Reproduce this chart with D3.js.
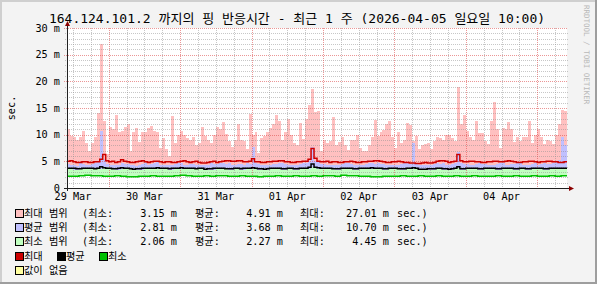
<!DOCTYPE html>
<html>
<head>
<meta charset="utf-8">
<script src="https://cdn.jsdelivr.net/npm/d3@7"></script>
<style>
body { margin: 0; background: #fff; }
svg text { font-family: "DejaVu Sans Mono", "Noto Sans CJK KR", monospace; fill: #000; }
</style>
</head>
<body>
<svg id="chart" width="597" height="284"></svg>
<script>
// one week, 2026-03-29 10:00 .. 2026-04-05 10:00
var startTime = Date.UTC(2026, 2, 29, 10);
var endTime = Date.UTC(2026, 3, 5, 10);
var hourMs = 3600000;

// ms, one value per hour
var maxRangeTop = [
  11, 9.8, 9.5, 9.0, 9.5, 10.6, 8.5, 7.0, 8.5, 9.5,
  14, 27.0, 12.5, 6.4, 11.5, 11, 13.7, 10.5, 10.6, 11.5,
  12, 7, 10.5, 11.2, 8.7, 10.5, 10.5, 11.2, 11.6, 10.6,
  10.5, 7.5, 9.3, 7.3, 6, 13.5, 8.5, 9.9, 10.7, 10,
  9.3, 9.0, 9.5, 8, 8.5, 11.5, 9.8, 9, 8.5, 10,
  11.5, 11, 12.4, 10.2, 8.8, 7.7, 9, 12, 9, 8.8,
  7.4, 13.8, 10, 10.5, 6.6, 9.3, 9.7, 10.5, 11.3, 12,
  13.6, 12.5, 9, 10.5, 13, 10, 8.4, 8, 12.2, 9.1,
  13, 15.5, 18.5, 14.3, 14.5, 7, 9, 8.5, 8.8, 13.4,
  8, 8.6, 9.5, 8, 7.2, 9, 9, 10, 7.5, 7,
  7, 8, 9.5, 12.8, 9.8, 10.5, 10.8, 12, 12.5, 9.5,
  7.5, 10.5, 8.5, 9, 12.2, 11.8, 8.8, 9.7, 7.3, 8,
  8.2, 8.5, 7.3, 8.8, 9.5, 9.3, 9, 10, 10, 9.3,
  8.8, 19.0, 12, 13.6, 10.6, 9.5, 9, 12.5, 10.4, 10.3,
  8.8, 8.3, 12.5, 16.2, 11, 7.5, 11.2, 11, 12.4, 11,
  8.7, 9.6, 8.8, 9.5, 9.6, 12.5, 8.5, 10, 11, 9.5,
  8.2, 9, 8.8, 8.3, 10, 12, 14.7, 14.5
];
var avgRangeTop = [
  4.5, 4.4, 4.3, 4.2, 4.6, 4.5, 4.4, 4.3, 4.5, 4.6, 4.8, 10.7, 5.5, 4.5, 4.4, 4.3, 4.3, 4.4, 4.6, 4.5,
  4.5, 4.4, 4.3, 4.2, 4.4, 4.5, 4.6, 4.4, 4.5, 4.6, 4.8, 4.4, 4.4, 4.3, 4.3, 4.4, 4.5, 4.6, 4.6, 4.4,
  4.4, 4.5, 4.5, 4.3, 4.3, 4.4, 4.4, 4.3, 4.6, 4.5, 4.5, 4.6, 4.7, 4.5, 4.6, 4.4, 4.4, 4.5, 4.5, 4.4,
  4.6, 4.5, 7.7, 4.6, 4.5, 4.4, 4.3, 4.4, 4.4, 4.5, 4.5, 4.6, 4.6, 4.5, 4.4, 4.3, 4.3, 4.4, 4.5, 4.6,
  4.7, 5.0, 7.7, 5.0, 4.8, 4.5, 4.5, 4.4, 4.4, 4.3, 4.3, 4.4, 4.5, 4.6, 4.6, 4.5, 4.4, 4.3, 4.3, 4.4,
  4.5, 4.6, 4.6, 4.5, 4.7, 4.5, 4.5, 4.4, 4.4, 4.3, 4.3, 4.4, 4.5, 4.6, 4.6, 4.5, 8.4, 4.6, 4.4, 4.3,
  4.3, 4.4, 4.4, 4.5, 4.6, 4.5, 4.7, 4.4, 4.4, 4.5, 4.6, 6.8, 4.6, 4.5, 4.5, 4.4, 4.4, 4.5, 4.6, 4.5,
  4.5, 4.4, 4.3, 4.4, 4.5, 4.6, 4.6, 4.4, 4.4, 4.5, 4.5, 4.6, 4.6, 4.4, 4.3, 4.4, 4.5, 4.6, 4.4, 4.5,
  4.6, 4.5, 4.5, 4.6, 4.8, 5.2, 9.5, 8.0
];
var maxLine = [
  5.0, 5.1, 4.9, 4.8, 4.8, 4.9, 4.9, 4.8, 4.8, 4.9, 4.9, 5.4, 6.3, 5.1, 4.9, 5.0, 4.8, 4.9, 5.3, 5.0,
  4.9, 4.8, 4.8, 4.9, 5.0, 5.1, 4.9, 4.8, 4.9, 5.0, 5.0, 4.9, 4.8, 4.9, 4.9, 4.8, 4.8, 4.9, 5.0, 5.1,
  4.9, 4.8, 4.9, 5.0, 4.8, 4.7, 4.7, 4.8, 4.9, 5.0, 4.8, 4.9, 5.0, 5.1, 5.1, 5.0, 5.0, 5.1, 5.1, 4.9,
  4.9, 5.0, 5.5, 4.9, 4.9, 4.8, 4.8, 4.9, 4.9, 5.0, 5.0, 5.1, 5.1, 4.9, 4.9, 4.8, 4.8, 4.9, 4.9, 5.0,
  5.0, 5.4, 7.4, 5.6, 5.0, 4.9, 4.9, 5.0, 4.8, 4.9, 4.9, 4.8, 4.8, 4.9, 4.9, 5.0, 4.9, 4.8, 4.8, 4.9,
  4.9, 5.0, 5.0, 5.1, 5.1, 5.0, 4.9, 4.8, 4.8, 4.9, 4.9, 5.0, 4.9, 4.8, 4.8, 4.7, 4.7, 4.6, 4.6, 4.7,
  4.8, 4.7, 4.7, 4.8, 5.0, 5.1, 5.1, 5.0, 4.8, 4.9, 5.0, 6.3, 5.1, 4.9, 4.9, 5.0, 5.0, 4.9, 4.9, 4.8,
  4.8, 4.9, 4.9, 5.0, 5.0, 4.9, 4.9, 5.0, 5.1, 5.0, 4.9, 4.8, 4.8, 4.9, 4.9, 5.0, 5.0, 4.9, 4.8, 4.9,
  4.9, 5.0, 5.0, 4.9, 4.9, 4.8, 4.8, 4.9
];
var avgLine = [
  3.7, 3.7, 3.7, 3.6, 3.6, 3.7, 3.7, 3.7, 3.7, 3.6, 3.7, 4.0, 3.8, 3.7, 3.7, 3.6, 3.6, 3.7, 3.8, 3.7,
  3.7, 3.6, 3.5, 3.6, 3.6, 3.7, 3.7, 3.7, 3.7, 3.7, 3.8, 3.7, 3.7, 3.7, 3.6, 3.7, 3.7, 3.7, 3.8, 3.7,
  3.7, 3.7, 3.7, 3.6, 3.7, 3.7, 3.5, 3.6, 3.6, 3.7, 3.7, 3.7, 3.7, 3.6, 3.6, 3.6, 3.7, 3.7, 3.6, 3.7,
  3.7, 3.7, 3.8, 3.7, 3.6, 3.6, 3.5, 3.6, 3.7, 3.7, 3.7, 3.7, 3.6, 3.6, 3.7, 3.7, 3.6, 3.6, 3.7, 3.7,
  3.7, 3.9, 4.5, 3.9, 3.8, 3.7, 3.7, 3.7, 3.7, 3.6, 3.6, 3.6, 3.7, 3.7, 3.7, 3.7, 3.6, 3.6, 3.7, 3.7,
  3.7, 3.7, 3.8, 3.7, 3.7, 3.7, 3.6, 3.6, 3.7, 3.7, 3.7, 3.6, 3.6, 3.6, 3.7, 3.7, 3.8, 3.7, 3.5, 3.5,
  3.5, 3.6, 3.6, 3.6, 3.7, 3.7, 3.6, 3.6, 3.5, 3.6, 3.7, 4.0, 3.6, 3.6, 3.7, 3.7, 3.7, 3.7, 3.6, 3.6,
  3.7, 3.7, 3.7, 3.7, 3.6, 3.6, 3.7, 3.7, 3.7, 3.7, 3.6, 3.6, 3.7, 3.7, 3.6, 3.6, 3.7, 3.7, 3.7, 3.7,
  3.6, 3.6, 3.7, 3.7, 3.7, 3.7, 3.7, 3.7
];

// ms, one value per 2 hours
var minRangeTop = [
  3.5, 3.4, 3.5, 3.6, 3.5, 3.6, 3.9, 3.5, 3.4, 3.6, 3.5, 3.3, 3.4, 3.5, 3.5, 3.6, 3.5, 3.4, 3.5, 3.6, 3.5, 3.5,
  3.5, 3.3, 3.4, 3.5, 3.5, 3.4, 3.5, 3.4, 3.5, 3.6, 3.4, 3.3, 3.5, 3.5, 3.4, 3.5, 3.4, 3.5, 3.6, 4.0, 3.6,
  3.5, 3.5, 3.4, 3.5, 3.5, 3.4, 3.5, 3.5, 3.6, 3.5, 3.4, 3.5, 3.5, 3.4, 3.5, 3.6, 3.3, 3.3, 3.4, 3.5, 3.4,
  3.3, 3.7, 3.4, 3.5, 3.5, 3.4, 3.5, 3.5, 3.4, 3.5, 3.5, 3.4, 3.5, 3.4, 3.5, 3.5, 3.4, 3.5, 3.5, 3.5
];
var minLine = [
  2.2, 2.2, 2.3, 2.4, 2.3, 2.3, 2.2, 2.2, 2.3, 2.2, 2.1, 2.1, 2.2, 2.2, 2.3, 2.2, 2.2, 2.2, 2.3, 2.4, 2.3, 2.2,
  2.2, 2.3, 2.2, 2.3, 2.3, 2.2, 2.2, 2.3, 2.2, 2.2, 2.1, 2.2, 2.2, 2.3, 2.2, 2.2, 2.3, 2.2, 2.2, 2.3, 2.2,
  2.3, 2.3, 2.2, 2.4, 2.3, 2.3, 2.2, 2.2, 2.1, 2.1, 2.2, 2.2, 2.2, 2.3, 2.2, 2.2, 2.3, 2.2, 2.2, 2.3, 2.2,
  2.2, 2.3, 2.2, 2.2, 2.3, 2.2, 2.2, 2.2, 2.3, 2.2, 2.2, 2.3, 2.2, 2.2, 2.3, 2.2, 2.2, 2.3, 2.2, 2.3
];

var yTicks = [0, 5, 10, 15, 20, 25, 30];
var yTickLabels = ["0", "5 m", "10 m", "15 m", "20 m", "25 m", "30 m"];

var legendNames = ["최대 범위", "평균 범위", "최소 범위"];
var statMin = ["3.15", "2.81", "2.06"];
var statAvg = ["4.91", "3.68", "2.27"];
var statMax = ["27.01", "10.70", "4.45"];
var lineNames = ["최대", "평균", "최소"];

var titleText = "164.124.101.2 까지의 핑 반응시간 - 최근 1 주 (2026-04-05 일요일 10:00)";

var W = 597, H = 284;
var plotLeft = 67, plotRight = 567, plotTop = 28, plotBottom = 188;

var svg = d3.select("#chart");

// background + 3d border
svg.append("rect").attr("width", W).attr("height", H).attr("fill", "#f3f3f3");
svg.append("path").attr("d", "M0,0H597V2H2V284H0Z").attr("fill", "#cfcfcf");
svg.append("path").attr("d", "M597,0V284H0V282H595V0Z").attr("fill", "#9e9e9e");

svg.append("rect")
  .attr("x", plotLeft).attr("y", plotTop)
  .attr("width", plotRight - plotLeft).attr("height", plotBottom - plotTop)
  .attr("fill", "#fff");

var x = d3.scaleUtc().domain([startTime, endTime]).range([plotLeft, plotRight]);
var y = d3.scaleLinear().domain([0, 30]).range([plotBottom, plotTop]);

function toSeries(values, stepHours) {
  var pts = values.map(function (v, i) {
    return { t: startTime + i * stepHours * hourMs, v: v };
  });
  pts.push({ t: endTime, v: values[values.length - 1] });
  return pts;
}

function lowAt(t) {
  var k = Math.min(minLine.length - 1, Math.floor((t - startTime) / (2 * hourMs)));
  return minLine[k];
}

var area = d3.area()
  .curve(d3.curveStepAfter)
  .x(function (d) { return x(d.t); })
  .y0(function (d) { return y(lowAt(d.t)); })
  .y1(function (d) { return y(d.v); });

var bands = svg.append("g").attr("shape-rendering", "crispEdges");
bands.append("path").datum(toSeries(maxRangeTop, 1)).attr("d", area).attr("fill", "#ffc0c0");
bands.append("path").datum(toSeries(avgRangeTop, 1)).attr("d", area).attr("fill", "#c0c0ff");
bands.append("path").datum(toSeries(minRangeTop, 2)).attr("d", area).attr("fill", "#c0ffc0");

// grid (dotted, drawn over the bands)
var grid = svg.append("g").attr("stroke-dasharray", "1,1");
d3.range(1, 31).forEach(function (v) {
  var yy = Math.round(y(v)) + 0.5;
  var major = v % 5 === 0;
  grid.append("line")
    .attr("x1", major ? plotLeft - 3 : plotLeft - 2).attr("x2", plotRight + 1)
    .attr("y1", yy).attr("y2", yy)
    .attr("stroke", major ? "rgba(222,80,80,0.6)" : "rgba(143,143,143,0.5)");
});
d3.utcHour.every(6).range(startTime, endTime).forEach(function (t) {
  var xx = Math.round(x(t)) + 0.5;
  var major = t.getUTCHours() === 0;
  if (xx < plotLeft + 2) return;
  grid.append("line")
    .attr("x1", xx).attr("x2", xx)
    .attr("y1", plotTop).attr("y2", plotBottom)
    .attr("stroke", major ? "rgba(222,80,80,0.6)" : "rgba(143,143,143,0.5)");
});

var line = d3.line()
  .curve(d3.curveStepAfter)
  .x(function (d) { return x(d.t); })
  .y(function (d) { return y(d.v); });

var lines = svg.append("g").attr("fill", "none").attr("stroke-width", 1.5);
lines.append("path").datum(toSeries(maxLine, 1)).attr("d", line).attr("stroke", "#cc0000");
lines.append("path").datum(toSeries(avgLine, 1)).attr("d", line).attr("stroke", "#000");
lines.append("path").datum(toSeries(minLine, 2)).attr("d", line).attr("stroke", "#00c000");

// axes and arrows
svg.append("line").attr("x1", plotLeft - 3).attr("x2", plotRight + 3)
  .attr("y1", plotBottom + 0.5).attr("y2", plotBottom + 0.5).attr("stroke", "#202020");
svg.append("line").attr("x1", plotLeft + 0.5).attr("x2", plotLeft + 0.5)
  .attr("y1", plotBottom + 3).attr("y2", plotTop - 3).attr("stroke", "#202020");
svg.append("path")
  .attr("d", "M" + (plotLeft - 2) + "," + (plotTop - 2) + "L" + (plotLeft + 0.5) + "," + (plotTop - 7) + "L" + (plotLeft + 3) + "," + (plotTop - 2) + "Z")
  .attr("fill", "#8b0000");
svg.append("path")
  .attr("d", "M" + (plotRight + 2) + "," + (plotBottom - 2) + "L" + (plotRight + 7) + "," + (plotBottom + 0.5) + "L" + (plotRight + 2) + "," + (plotBottom + 3) + "Z")
  .attr("fill", "#8b0000");

// y labels
svg.append("g").selectAll("text").data(yTicks).enter().append("text")
  .attr("x", 60).attr("y", function (d) { return y(d) + 3.5; })
  .attr("text-anchor", "end").attr("font-size", "10.2px")
  .text(function (d, i) { return yTickLabels[i]; });

svg.append("text")
  .attr("transform", "translate(15,108) rotate(-90)")
  .attr("text-anchor", "middle").attr("font-size", "10.2px")
  .text("sec.");

// x labels at noon
var dayLabels = d3.utcDay.range(Date.UTC(2026, 2, 29), Date.UTC(2026, 3, 5)).map(function (d) {
  return new Date(d.getTime() + 12 * hourMs);
});
svg.append("g").selectAll("text").data(dayLabels).enter().append("text")
  .attr("x", function (d) { return x(d); }).attr("y", 199.5)
  .attr("text-anchor", "middle").attr("font-size", "10.2px")
  .text(d3.utcFormat("%d %b"));

// title
svg.append("text").attr("x", 297).attr("y", 23)
  .attr("text-anchor", "middle").attr("font-size", "13px")
  .text(titleText);

// watermark
svg.append("text")
  .attr("transform", "translate(584,5) rotate(90)")
  .attr("font-size", "7.5px").style("fill", "#b8b8b8")
  .text("RRDTOOL / TOBI OETIKER");

// legend
var rowY = [217, 231, 245, 260, 274];
var bandColors = ["#ffc0c0", "#c0c0ff", "#c0ffc0"];
var lineColors = ["#cc0000", "#000000", "#00c000"];
var leg = svg.append("g").attr("font-size", "10.2px");

function box(g, bx, by, color) {
  g.append("rect").attr("x", bx + 0.5).attr("y", by - 7.5).attr("width", 8).attr("height", 8)
    .attr("fill", color).attr("stroke", "#000");
}

legendNames.forEach(function (name, i) {
  var by = rowY[i];
  box(leg, 15, by, bandColors[i]);
  leg.append("text").attr("x", 24).attr("y", by).text(name);
  leg.append("text").attr("x", 82).attr("y", by).text("(최소:");
  leg.append("text").attr("x", 177).attr("y", by).attr("text-anchor", "end").text(statMin[i] + " m");
  leg.append("text").attr("x", 195).attr("y", by).text("평균:");
  leg.append("text").attr("x", 283).attr("y", by).attr("text-anchor", "end").text(statAvg[i] + " m");
  leg.append("text").attr("x", 300).attr("y", by).text("최대:");
  leg.append("text").attr("x", 389).attr("y", by).attr("text-anchor", "end").text(statMax[i] + " m");
  leg.append("text").attr("x", 397).attr("y", by).text("sec.)");
});

var lineX = [15, 57, 99];
lineNames.forEach(function (name, i) {
  box(leg, lineX[i], rowY[3], lineColors[i]);
  leg.append("text").attr("x", lineX[i] + 9).attr("y", rowY[3]).text(name);
});

box(leg, 15, rowY[4], "#ffffa0");
leg.append("text").attr("x", 24).attr("y", rowY[4]).text("값이 없음");
</script>
</body>
</html>
